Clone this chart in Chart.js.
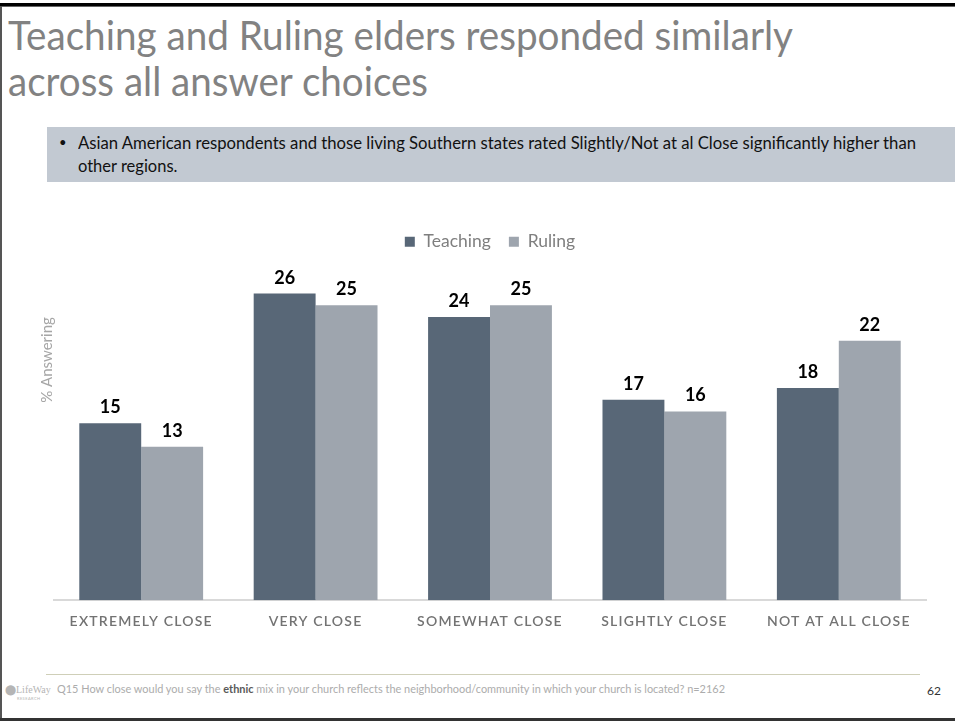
<!DOCTYPE html>
<html>
<head>
<meta charset="utf-8">
<script src="https://cdn.jsdelivr.net/npm/chart.js@4"></script>
<style>
  html, body { margin:0; padding:0; background:#fff; }
  body { width:955px; height:721px; position:relative; overflow:hidden; font-family: Lato, "Open Sans", sans-serif; }
  .topbar { position:absolute; left:0; top:3px; width:955px; height:3px; background:#000; }
  .topbar2 { position:absolute; left:0; top:6px; width:955px; height:1px; background:#666; }
  .leftbar { position:absolute; left:0; top:6px; width:2px; height:714px; background:#555; }
  .bottombar { position:absolute; left:0; top:718px; width:955px; height:3px; background:#333; }
  .title { position:absolute; left:8px; font-family: Lato, sans-serif; font-weight:400; font-size:40px; color:#828282; white-space:nowrap; line-height:1; transform-origin:0 0; }
  .box { position:absolute; left:47px; top:127px; width:908px; height:55px; background:#c2c9d2; }
  .btxt { position:absolute; font-family: Lato, sans-serif; font-size:16.5px; color:#111; white-space:nowrap; line-height:1; transform-origin:0 0; }
  .bullet { position:absolute; left:59px; top:134px; font-size:13px; color:#111; }
  .fline { position:absolute; left:46px; top:674px; width:874px; height:1px; background:#cfcfb8; }
  .foot { position:absolute; left:57px; top:683px; font-family: Lato, sans-serif; font-size:11px; color:#acacac; white-space:nowrap; transform-origin:0 0; line-height:1; }
  .foot b { color:#595959; font-weight:700; }
  .pnum { position:absolute; left:927px; top:683px; font-family: Lato, sans-serif; font-size:12px; color:#333; }
  .logo { position:absolute; left:5px; top:685px; color:#b5b5b5; font-family: "Liberation Serif", serif; font-size:10px; line-height:1; white-space:nowrap; }
  .logo .r { position:absolute; left:12px; top:12px; font-family: Lato, sans-serif; font-size:4px; letter-spacing:0.4px; }
  #wrap { position:absolute; left:0; top:215px; width:955px; height:424px; }
</style>
</head>
<body>
<div class="topbar"></div><div class="topbar2"></div>
<div class="leftbar"></div><div class="bottombar"></div>

<div class="title" id="t1" style="top:15px">Teaching and Ruling elders responded similarly</div>
<div class="title" id="t2" style="top:61px">across all answer choices</div>

<div class="box"></div>
<div class="bullet">•</div>
<div class="btxt" id="b1" style="left:78px; top:135px">Asian American respondents and those living Southern states rated Slightly/Not at al Close significantly higher than</div>
<div class="btxt" id="b2" style="left:78px; top:158px">other regions.</div>

<div id="wrap"><canvas id="c" width="955" height="424"></canvas></div>

<div class="fline"></div>
<div class="logo">⬤LifeWay<span class="r">RESEARCH</span></div>
<div class="foot" id="f1">Q15 How close would you say the <b>ethnic</b> mix in your church reflects the neighborhood/community in which your church is located? n=2162</div>
<div class="pnum">62</div>

<script>
const categories = ["EXTREMELY CLOSE", "VERY CLOSE", "SOMEWHAT CLOSE", "SLIGHTLY CLOSE", "NOT AT ALL CLOSE"];
const teaching = [15, 26, 24, 17, 18];
const ruling = [13, 25, 25, 16, 22];
const seriesNames = ["Teaching", "Ruling"];
const yAxisTitle = "% Answering";

function fit(id, w) {
  const el = document.getElementById(id);
  const r = el.getBoundingClientRect();
  el.style.transform = 'scaleX(' + (w / r.width) + ')';
}

const valueLabels = {
  id: 'valueLabels',
  afterDatasetsDraw(chart) {
    const ctx = chart.ctx;
    ctx.save();
    ctx.font = 'bold 18px Lato, sans-serif';
    ctx.fillStyle = '#000';
    ctx.textAlign = 'center';
    ctx.textBaseline = 'alphabetic';
    chart.data.datasets.forEach((ds, i) => {
      chart.getDatasetMeta(i).data.forEach((bar, j) => {
        ctx.fillText(String(ds.data[j]), bar.x, bar.y - 10);
      });
    });
    ctx.restore();
  }
};

const yTitle = {
  id: 'yTitle',
  afterDraw(chart) {
    const ctx = chart.ctx;
    ctx.save();
    ctx.translate(47, 360 - 215);
    ctx.rotate(-Math.PI / 2);
    ctx.font = '15px Lato, sans-serif';
    ctx.fillStyle = '#a6a6a6';
    ctx.textAlign = 'center';
    ctx.textBaseline = 'middle';
    ctx.fillText(yAxisTitle, 0, 0);
    ctx.restore();
  }
};

const spacedTicks = {
  id: 'spacedTicks',
  beforeDraw(chart) {
    const s = chart.scales.x;
    if (s && !s._spaced) {
      const orig = s.drawLabels.bind(s);
      s.drawLabels = function (area) {
        const c = this.ctx;
        const prev = c.letterSpacing;
        c.letterSpacing = '1.2px';
        orig(area);
        c.letterSpacing = prev || '0px';
      };
      s._spaced = true;
    }
  }
};

function build() {
  fit('t1', 785);
  fit('t2', 420);
  fit('b1', 838);
  fit('f1', 668);

  new Chart(document.getElementById('c'), {
    type: 'bar',
    data: {
      labels: categories,
      datasets: [
        { label: seriesNames[0], data: teaching, backgroundColor: '#586777' },
        { label: seriesNames[1], data: ruling, backgroundColor: '#9ea5ae' }
      ]
    },
    options: {
      responsive: false,
      animation: false,
      devicePixelRatio: 1,
      layout: { padding: { left: 54, right: 29, top: 0, bottom: 4 } },
      datasets: { bar: { categoryPercentage: 0.71, barPercentage: 1.0 } },
      plugins: {
        legend: {
          position: 'top',
          align: 'center',
          labels: {
            boxWidth: 10, boxHeight: 10, padding: 18,
            color: '#7f7f7f',
            font: { family: 'Lato, sans-serif', size: 17.5 }
          }
        },
        tooltip: { enabled: false }
      },
      scales: {
        x: {
          grid: { display: false },
          border: { display: true, color: '#d9d9d9', width: 2 },
          ticks: {
            color: '#737373', padding: 5,
            font: { family: 'Lato, sans-serif', size: 14, weight: '600' },
            maxRotation: 0, autoSkip: false
          }
        },
        y: {
          display: false,
          min: 0, max: 28.8
        }
      }
    },
    plugins: [valueLabels, spacedTicks, yTitle]
  });
}
if (document.fonts && document.fonts.ready) { document.fonts.ready.then(build); } else { build(); }
</script>
</body>
</html>
